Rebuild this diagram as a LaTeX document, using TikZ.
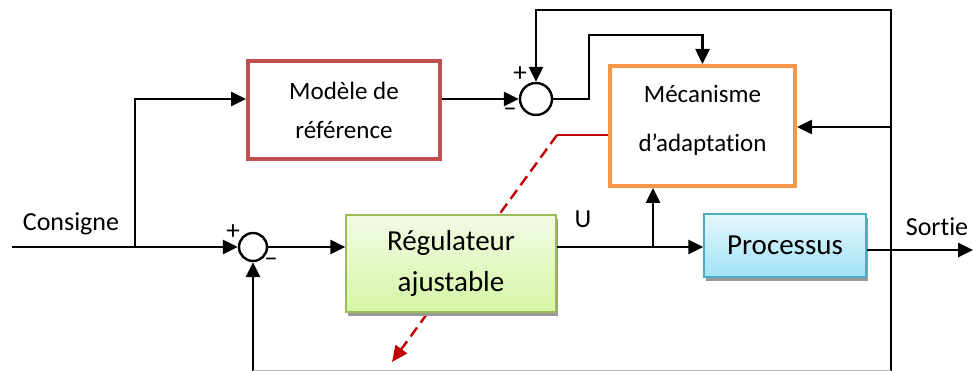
\documentclass[tikz,border=0pt]{standalone}
\usepackage{fontspec}
\setmainfont{Carlito}[Ligatures=NoCommon]
\usetikzlibrary{arrows.meta,shadows,calc}

\definecolor{refred}{HTML}{C0504D}
\definecolor{mecorange}{HTML}{F79646}
\definecolor{regborder}{HTML}{9BBB59}
\definecolor{regtop}{HTML}{F2FBE4}
\definecolor{regbot}{HTML}{D6F5A6}
\definecolor{procborder}{HTML}{4BACC6}
\definecolor{proctop}{HTML}{E4F7FD}
\definecolor{procbot}{HTML}{A2E2F6}
\definecolor{adapt}{HTML}{C00000}

\begin{document}
\begin{tikzpicture}[x=1pt,y=-1pt,
  sig/.style={line width=2.6pt,-{Triangle[length=15pt,width=14pt]}},
  sumnode/.style={circle,draw,line width=2.4pt,inner sep=0pt},
  sign/.style={inner sep=0pt,font=\fontsize{27}{27}\selectfont},
  lbl/.style={inner sep=0pt,anchor=base,font=\fontsize{26}{26}\selectfont},
  blockbox/.style={rectangle,align=center,inner sep=0pt},
  shade/.style={drop shadow={shadow xshift=1.5pt,shadow yshift=-4pt,fill=black!40,opacity=1}}
]
\useasboundingbox (0,0) rectangle (973,371);

% blocks
\node[blockbox,draw=refred,line width=4pt,minimum width=192pt,minimum height=98pt,
      font=\fontsize{25}{39}\selectfont] (Modele) at (344,110) {Modèle de\\référence};
\node[blockbox,draw=mecorange,line width=4pt,minimum width=185pt,minimum height=120pt,
      text depth=16pt,
      font=\fontsize{25}{49}\selectfont] (Mec) at (702.5,126) {Mécanisme\\d’adaptation};
\node[blockbox,draw=procborder,line width=1.5pt,minimum width=162pt,minimum height=63pt,
      top color=proctop,bottom color=procbot,shade,
      font=\fontsize{29}{29}\selectfont] (Proc) at (785,245.5) {Processus};

% summing junctions
\node[sumnode,minimum size=28pt] (s1) at (253,247) {};
\node[sumnode,minimum size=32pt] (s2) at (536,99) {};

% junction signs
\node[sign] (p1) at (233,232) {+};
\node[sign] (m1) at (271,262) {–};
\node[sign] (p2) at (520,74) {+};
\node[sign] (m2) at (510,112) {–};

% branch points and bends
\coordinate (cin)   at (12,247);
\coordinate (tap1)  at (135,247);
\coordinate (tapup) at (135,99);
\coordinate (k1)    at (589,35);
\coordinate (fbtop) at (891,10);
\coordinate (fbmid) at (891,127);
\coordinate (fbbot) at (891,371);
\coordinate (fbl)   at (253,371);
\coordinate (tapU)  at (653,247);
\coordinate (sout)  at (973,250);
\coordinate (rk)    at (557,135);
\coordinate (rtip)  at (392,362);

% adaptation action (passes behind the controller)
\draw[adapt,line width=2pt] (Mec.west |- rk) -- (rk);
\draw[adapt,line width=2.4pt,dash pattern=on 11pt off 6pt,
      -{Triangle[length=16pt,width=14pt]}] (rk) -- (rtip);

\node[blockbox,draw=regborder,line width=1.5pt,minimum width=210pt,minimum height=97pt,
      top color=regtop,bottom color=regbot,shade,
      font=\fontsize{29}{41}\selectfont] (Reg) at (451,263.5) {Régulateur\\ajustable};

% signal lines
\draw[sig] (cin) -- (s1.west);
\draw[sig] (tap1) |- (Modele.west |- tapup);
\draw[sig] (Modele.east |- s2) -- (s2.west);
\draw[sig] (s2.east) -| (k1) -| (Mec.north);
\draw[sig] (fbbot) -- (fbtop) -| (s2.north);
\draw[sig] (fbmid) -- (Mec.east |- fbmid);
\draw[sig] (s1.east) -- (Reg.west |- s1);
\draw[sig] (Reg.east |- tapU) -- (Proc.west |- tapU);
\draw[sig] (tapU) -- (Mec.south -| tapU);
\draw[sig] (Proc.east |- sout) -- (sout);
\draw[sig] (fbl) -- (s1.south);
\draw[black!30,line width=1pt] ($(fbl)+(0,-1)$) -- ($(fbbot)+(0,-1)$);

% labels
\node[lbl] (consigne) at (71,230) {Consigne};
\node[lbl] (sortie) at (937,235) {Sortie};
\node[lbl] (u) at (583,228) {U};
\end{tikzpicture}
\end{document}
